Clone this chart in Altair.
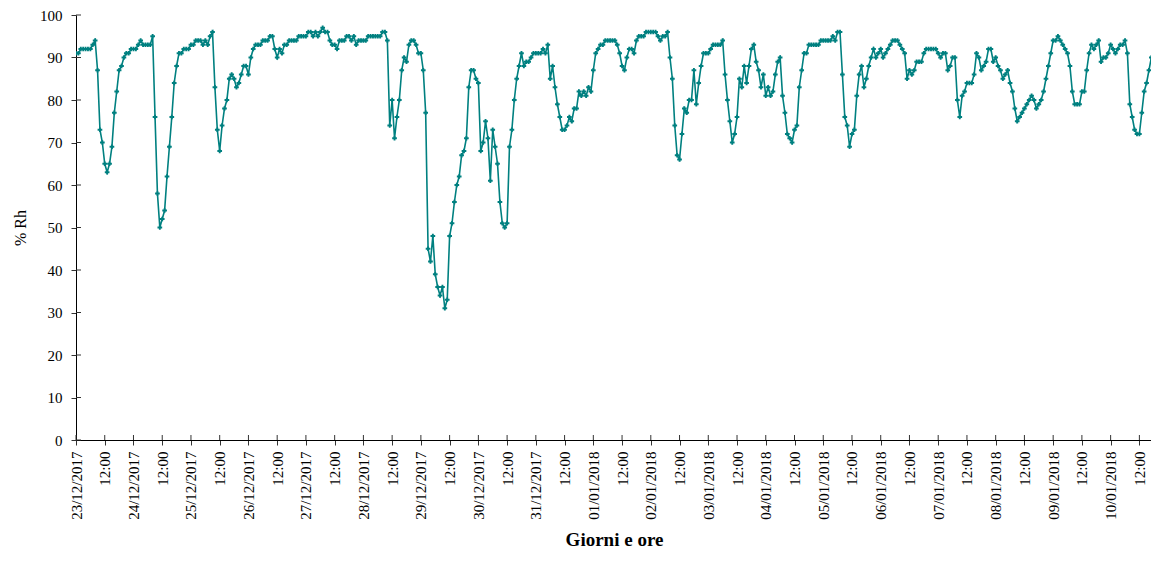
import altair as alt
import pandas as pd

# Hourly relative humidity (% Rh), one list per day, starting 23/12/2017 00:00
rh_2017_12_23 = [91, 91, 92, 92, 92, 92, 92, 93, 94, 87, 73, 70, 65, 63, 65, 69, 77, 82, 87, 88, 90, 91, 91, 92]
rh_2017_12_24 = [92, 92, 93, 94, 93, 93, 93, 93, 95, 76, 58, 50, 52, 54, 62, 69, 76, 84, 88, 91, 91, 92, 92, 92]
rh_2017_12_25 = [93, 93, 94, 94, 94, 93, 94, 93, 95, 96, 83, 73, 68, 74, 78, 80, 85, 86, 85, 83, 84, 86, 88, 88]
rh_2017_12_26 = [86, 90, 92, 93, 93, 93, 94, 94, 94, 95, 95, 92, 90, 92, 91, 93, 93, 94, 94, 94, 94, 95, 95, 95]
rh_2017_12_27 = [95, 96, 96, 95, 96, 95, 96, 97, 96, 96, 94, 93, 93, 92, 94, 94, 94, 95, 95, 94, 95, 93, 94, 94]
rh_2017_12_28 = [94, 94, 95, 95, 95, 95, 95, 95, 96, 96, 94, 74, 80, 71, 76, 80, 87, 90, 89, 93, 94, 94, 93, 91]
rh_2017_12_29 = [91, 87, 77, 45, 42, 48, 39, 36, 34, 36, 31, 33, 48, 51, 56, 60, 62, 67, 68, 71, 83, 87, 87, 85]
rh_2017_12_30 = [84, 68, 70, 75, 71, 61, 73, 69, 65, 56, 51, 50, 51, 69, 73, 80, 85, 88, 91, 88, 89, 89, 90, 91]
rh_2017_12_31 = [91, 91, 91, 92, 91, 93, 85, 88, 83, 79, 76, 73, 73, 74, 76, 75, 78, 78, 82, 81, 82, 81, 83, 82]
rh_2018_01_01 = [87, 91, 92, 93, 93, 94, 94, 94, 94, 94, 93, 91, 88, 87, 90, 92, 92, 91, 94, 95, 95, 95, 96, 96]
rh_2018_01_02 = [96, 96, 96, 95, 94, 95, 95, 96, 90, 85, 74, 67, 66, 72, 78, 77, 80, 80, 87, 79, 84, 88, 91, 91]
rh_2018_01_03 = [91, 92, 93, 93, 93, 93, 94, 86, 80, 75, 70, 72, 76, 85, 83, 88, 84, 88, 92, 93, 89, 87, 83, 86]
rh_2018_01_04 = [81, 83, 81, 82, 86, 89, 90, 81, 77, 72, 71, 70, 73, 74, 83, 87, 91, 91, 93, 93, 93, 93, 93, 94]
rh_2018_01_05 = [94, 94, 94, 94, 95, 94, 96, 96, 86, 76, 74, 69, 72, 73, 81, 86, 88, 83, 85, 88, 90, 92, 90, 91]
rh_2018_01_06 = [92, 90, 91, 92, 93, 94, 94, 94, 93, 92, 91, 85, 87, 86, 87, 89, 89, 89, 91, 92, 92, 92, 92, 92]
rh_2018_01_07 = [91, 90, 91, 91, 87, 88, 90, 90, 80, 76, 81, 82, 84, 84, 84, 86, 91, 90, 87, 88, 89, 92, 92, 89]
rh_2018_01_08 = [90, 88, 87, 85, 86, 87, 84, 82, 78, 75, 76, 77, 78, 79, 80, 81, 80, 78, 79, 80, 82, 85, 88, 91]
rh_2018_01_09 = [94, 94, 95, 94, 93, 92, 91, 88, 82, 79, 79, 79, 82, 82, 87, 91, 93, 92, 93, 94, 89, 90, 90, 91]
rh_2018_01_10 = [93, 92, 91, 92, 93, 93, 94, 91, 79, 76, 73, 72, 72, 77, 82, 84, 87, 90, 91, 88]

days = [rh_2017_12_23, rh_2017_12_24, rh_2017_12_25, rh_2017_12_26, rh_2017_12_27,
        rh_2017_12_28, rh_2017_12_29, rh_2017_12_30, rh_2017_12_31, rh_2018_01_01,
        rh_2018_01_02, rh_2018_01_03, rh_2018_01_04, rh_2018_01_05, rh_2018_01_06,
        rh_2018_01_07, rh_2018_01_08, rh_2018_01_09, rh_2018_01_10]
rh = [v for d in days for v in d]

start = pd.Timestamp("2017-12-23 00:00")
times = pd.date_range(start, periods=len(rh), freq="h")
df = pd.DataFrame({"time": times.strftime("%Y-%m-%dT%H:%M:%SZ"), "rh": rh})

# axis ticks: every 12 hours
tick_times = pd.date_range("2017-12-23 00:00", "2018-01-10 12:00", freq="12h")
tick_ms = [int(t.timestamp() * 1000) for t in tick_times]
y_ticks = list(range(0, 101, 10))

FONT = "Liberation Serif"
TEAL = "#008080"
TICK = "#333333"

PLOT_W, PLOT_H = 1075, 425
PX_PER_HOUR = 2.395

x_start_ms = int(start.timestamp() * 1000)
x_end_ms = int((start + pd.Timedelta(hours=PLOT_W / PX_PER_HOUR)).timestamp() * 1000)

x_scale = alt.Scale(type="utc", domain=[x_start_ms, x_end_ms], nice=False)
y_scale = alt.Scale(domain=[0, 100], nice=False)

x_axis = alt.Axis(
    values=tick_ms,
    labelExpr="utchours(datum.value) == 0 ? utcFormat(datum.value, '%d/%m/%Y') : '12:00'",
    labelAngle=270, labelFontSize=15, labelPadding=6, tickSize=5,
    title="Giorni e ore", titleFontSize=19, titleFontWeight="bold",
    titleX=538, titleY=109, titleAlign="center", titleBaseline="bottom",
    labelOverlap=False, labelFlush=False,
)
y_axis = alt.Axis(
    values=y_ticks, labelFontSize=15, labelPadding=9, tickSize=5,
    title="% Rh", titleFontSize=16, titleFontWeight="normal",
    titleX=-56, titleY=PLOT_H / 2, titleAngle=270, titleAlign="center", titleBaseline="middle",
)

line = alt.Chart(df).mark_line(
    color=TEAL, strokeWidth=1.6, clip=True,
    point=alt.OverlayMarkDef(shape="cross", size=22, filled=True, color=TEAL, clip=True),
).encode(
    x=alt.X("time:T", scale=x_scale, axis=x_axis),
    y=alt.Y("rh:Q", scale=y_scale, axis=y_axis),
)

# inner halves of the tick marks (ticks cross the axis lines)
ytick_df = pd.DataFrame({"rh": y_ticks})
ytick_in = alt.Chart(ytick_df).mark_rule(color=TICK, strokeWidth=1).encode(
    y=alt.Y("rh:Q", scale=y_scale, axis=y_axis), x=alt.value(0), x2=alt.value(5)
)
xtick_df = pd.DataFrame({"time": tick_times.strftime("%Y-%m-%dT%H:%M:%SZ")})
xtick_in = alt.Chart(xtick_df).mark_rule(color=TICK, strokeWidth=1).encode(
    x=alt.X("time:T", scale=x_scale, axis=x_axis),
    y=alt.value(PLOT_H - 5), y2=alt.value(PLOT_H),
)

chart = alt.layer(ytick_in, xtick_in, line).properties(
    width=PLOT_W, height=PLOT_H,
    autosize=alt.AutoSizeParams(type="none"),
    padding={"left": 68, "top": 7, "right": 0, "bottom": 110},
).configure_view(stroke=None).configure_axis(
    grid=False, domainColor="black", domainWidth=1, tickColor=TICK,
    labelFont=FONT, titleFont=FONT, labelColor="black", titleColor="black",
)

chart.save("out.html", embed_options={"renderer": "svg", "actions": False})
